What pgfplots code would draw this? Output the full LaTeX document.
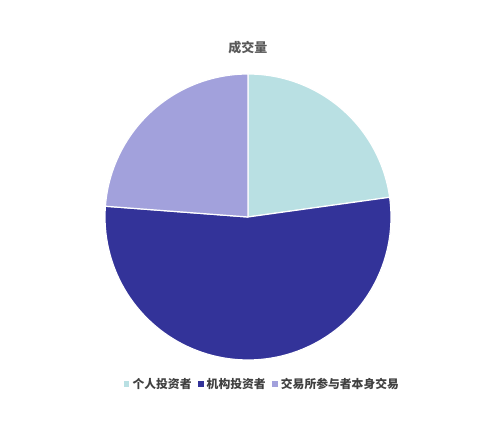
\documentclass[border=0pt]{standalone}
\usepackage{fontspec}
\usepackage{pgfplots}
\usepackage{pgfplotstable}
\pgfplotsset{compat=1.18}
\newfontfamily\cjk{Noto Sans CJK SC}

\definecolor{cGeren}{HTML}{B9E0E3}
\definecolor{cJigou}{HTML}{333399}
\definecolor{cZiying}{HTML}{A2A1DC}

% share of turnover, percent
\pgfplotstableread{
share
22.8
53.4
23.8
}\datatable
\pgfplotstablegetelem{0}{share}\of\datatable \let\sA\pgfplotsretval
\pgfplotstablegetelem{1}{share}\of\datatable \let\sB\pgfplotsretval
\pgfplotstablegetelem{2}{share}\of\datatable \let\sC\pgfplotsretval
\pgfmathsetmacro\aA{3.6*\sA}
\pgfmathsetmacro\aB{\aA+3.6*\sB}
\pgfmathsetmacro\aC{\aB+3.6*\sC}

\begin{document}
\begin{tikzpicture}
\begin{axis}[
    width=485bp, height=428bp, scale only axis,
    xmin=-248, xmax=237, ymin=-211, ymax=217,
    hide axis, clip=false,
    title={\cjk\bfseries 成交量},
    title style={at={(axis description cs:0.511,0.875)}, anchor=center,
        text=black!65, font=\fontsize{13bp}{15bp}\selectfont},
    legend columns=3,
    legend style={at={(axis description cs:0.540,0.103)}, anchor=center,
        draw=none, fill=none, text=black!75,
        font=\cjk\bfseries\fontsize{11.8bp}{13bp}\selectfont,
        /tikz/every even column/.append style={column sep=3.5bp},
        inner sep=0pt},
    legend image code/.code={\fill[#1] (0bp,-3.3bp) rectangle (6.5bp,3.3bp);},
    variable=\t, samples=90,
    every axis plot/.append style={draw=white, line width=1.2bp, line join=round},
]
\path (rel axis cs:0,0) rectangle (rel axis cs:1,1);
\addplot[fill=cGeren, domain=0:\aA] ({143*sin(t)},{143*cos(t)}) -- (axis cs:0,0) -- cycle;
\addlegendentry{个人投资者}
\addplot[fill=cJigou, domain=\aA:\aB] ({143*sin(t)},{143*cos(t)}) -- (axis cs:0,0) -- cycle;
\addlegendentry{机构投资者}
\addplot[fill=cZiying, domain=\aB:\aC] ({143*sin(t)},{143*cos(t)}) -- (axis cs:0,0) -- cycle;
\addlegendentry{交易所参与者本身交易}
\end{axis}
\end{tikzpicture}
\end{document}
